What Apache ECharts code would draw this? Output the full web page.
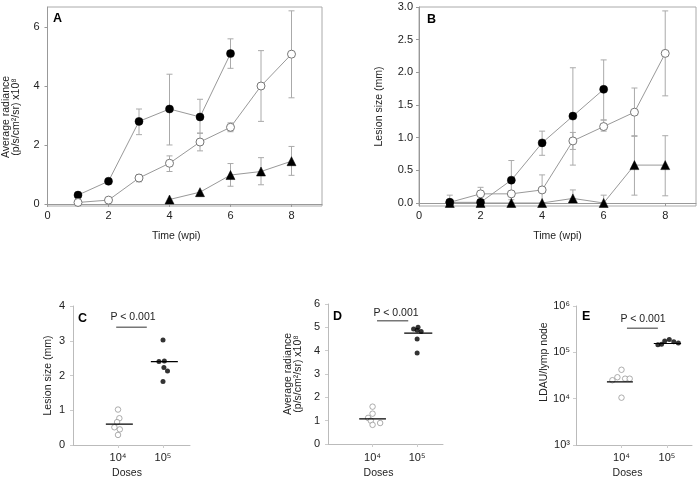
<!DOCTYPE html>
<html><head><meta charset="utf-8">
<script src="https://cdn.jsdelivr.net/npm/echarts@6/dist/echarts.min.js"></script>
<style>html,body{margin:0;padding:0;background:#fff}#c{width:700px;height:480px}</style>
</head><body><div id="c"></div>
<script>
// ---------- Panel A: average radiance over time ----------
const aFilledX = [1, 2, 3, 4, 5, 6];
const aFilled = [0.3, 0.77, 2.8, 3.22, 2.95, 5.1];
const aFilledLo = [null, null, 2.35, 2.0, 2.4, 4.6];
const aFilledHi = [null, null, 3.22, 4.4, 3.55, 5.6];
const aOpenX = [1, 2, 3, 4, 5, 6, 7, 8];
const aOpen = [0.05, 0.13, 0.88, 1.38, 2.1, 2.6, 4.0, 5.08];
const aOpenLo = [null, null, 0.75, 1.1, 1.8, 2.45, 2.8, 3.6];
const aOpenHi = [null, null, 1.0, 1.63, 2.4, 2.75, 5.2, 6.55];
const aTriX = [4, 5, 6, 7, 8];
const aTri = [0.15, 0.4, 0.98, 1.1, 1.45];
const aTriLo = [null, null, 0.6, 0.65, 0.97];
const aTriHi = [null, null, 1.37, 1.57, 1.95];
const aYTicks = [0, 2, 4, 6];
const xTicksTime = [0, 2, 4, 6, 8];

// ---------- Panel B: lesion size over time ----------
const bFilledX = [1, 2, 3, 4, 5, 6];
const bFilled = [0.01, 0.01, 0.35, 0.92, 1.33, 1.74];
const bFilledLo = [0, null, 0.05, 0.73, 0.58, 1.27];
const bFilledHi = [0.12, null, 0.65, 1.1, 2.07, 2.19];
const bOpenX = [1, 2, 3, 4, 5, 6, 7, 8];
const bOpen = [0.01, 0.14, 0.14, 0.2, 0.95, 1.17, 1.39, 2.29];
const bOpenLo = [null, 0.05, null, 0.0, 0.82, 1.1, 1.02, 1.64];
const bOpenHi = [null, 0.24, null, 0.43, 1.08, 1.27, 1.76, 2.94];
const bTriX = [1, 2, 3, 4, 5, 6, 7, 8];
const bTri = [0, 0, 0, 0, 0.07, 0, 0.58, 0.58];
const bTriLo = [null, null, null, null, 0, 0, 0.12, 0.11];
const bTriHi = [null, null, null, null, 0.2, 0.12, 1.03, 1.03];
const bYTicks = [0, 0.5, 1.0, 1.5, 2.0, 2.5, 3.0];

// ---------- Dose panels (C, D, E) ----------
const doseCats = ['10⁴', '10⁵'];
const doseTickPos = [1, 2];
// C: lesion size (mm)
const cLow = [1.02, 0.77, 0.66, 0.51, 0.45, 0.29];
const cLowJit = [0, 0.03, -0.02, -0.08, 0.04, 0];
const cHigh = [3.02, 2.42, 2.4, 2.23, 2.13, 1.83];
const cHighJit = [0, 0.03, -0.09, 0.02, 0.1, 0];
const cMedians = [0.6, 2.4];
const cSigY = 3.39;
// D: average radiance
const dLow = [1.6, 1.3, 1.12, 1.0, 0.9, 0.82];
const dLowJit = [0, 0, -0.1, -0.04, 0.17, 0];
const dHigh = [5.0, 4.93, 4.88, 4.82, 4.5, 3.9];
const dHighJit = [0.02, -0.08, 0.0, 0.09, 0, 0];
const dMedians = [1.08, 4.75];
const dSigY = 5.28;
// E: LDAU per lymph node
const eLow = [42000, 29000, 27000, 27000, 25000, 10500];
const eLowJit = [0, -0.09, 0.08, 0.18, -0.2, 0];
const eHigh = [190000, 175000, 170000, 160000, 150000, 145000];
const eHighJit = [0.05, -0.05, 0.15, 0.25, -0.12, -0.2];
const eMedians = [23000, 155000];
const eSigY = 330000;

const FONT = 'Liberation Sans, Arial, sans-serif';
const LABEL = '#222';

function errSeries(xi, xs, lo, hi) {
  const data = [];
  xs.forEach((x, i) => { if (lo[i] != null) data.push([x, lo[i], hi[i]]); });
  return {
    type: 'custom', xAxisIndex: xi, yAxisIndex: xi, silent: true, z: 1,
    encode: { x: 0, y: [1, 2] }, data,
    renderItem(params, api) {
      const x = api.value(0);
      const p1 = api.coord([x, api.value(1)]);
      const p2 = api.coord([x, api.value(2)]);
      const w = 3, st = { stroke: '#aaa', lineWidth: 1 };
      return { type: 'group', children: [
        { type: 'line', shape: { x1: p1[0], y1: p1[1], x2: p2[0], y2: p2[1] }, style: st },
        { type: 'line', shape: { x1: p1[0] - w, y1: p1[1], x2: p1[0] + w, y2: p1[1] }, style: st },
        { type: 'line', shape: { x1: p2[0] - w, y1: p2[1], x2: p2[0] + w, y2: p2[1] }, style: st }
      ]};
    }
  };
}
function lineSeries(xi, xs, ys, kind) {
  const item = kind === 'open'
    ? { color: '#fff', borderColor: '#777', borderWidth: 1 }
    : { color: '#000', borderColor: '#000', borderWidth: 0.5 };
  return {
    type: 'line', xAxisIndex: xi, yAxisIndex: xi, z: 3,
    data: xs.map((x, i) => [x, ys[i]]),
    symbol: kind === 'tri' ? 'triangle' : 'circle',
    symbolSize: kind === 'tri' ? 9 : 8,
    showAllSymbol: true,
    lineStyle: { color: '#999', width: 1 },
    itemStyle: item, animation: false
  };
}
function dotSeries(xi, cat, vals, jit, open) {
  return {
    type: 'scatter', xAxisIndex: xi, yAxisIndex: xi, z: 3,
    data: vals.map((v, i) => [cat + jit[i], v]),
    symbol: 'circle', symbolSize: open ? 5.5 : 5,
    itemStyle: open ? { color: '#fff', borderColor: '#999', borderWidth: 1 } : { color: '#000' }
  };
}
function segSeries(xi, x1, x2, y, color, width) {
  return {
    type: 'line', xAxisIndex: xi, yAxisIndex: xi, z: 4,
    data: [[x1, y], [x2, y]], symbol: 'none',
    lineStyle: { color, width }
  };
}

function timeX(gi, padR) {
  return {
    type: 'value', gridIndex: gi, min: 0, max: 9,
    name: 'Time (wpi)', nameLocation: 'middle', nameGap: 25,
    nameTextStyle: { fontFamily: FONT, fontSize: 10.5, color: LABEL, padding: [0, padR, 0, 0] },
    axisLine: { show: true, lineStyle: { color: '#999' } },
    axisTick: { show: true, length: 3, customValues: xTicksTime, lineStyle: { color: '#999' } },
    axisLabel: { customValues: xTicksTime, margin: 4, fontFamily: FONT, fontSize: 11, color: LABEL },
    splitLine: { show: false }
  };
}
function doseX(gi, max, padR, margin, gap) {
  return {
    type: 'value', gridIndex: gi, min: 0, max,
    name: 'Doses', nameLocation: 'middle', nameGap: gap,
    nameTextStyle: { fontFamily: FONT, fontSize: 10.5, color: LABEL, padding: [0, padR, 0, 0] },
    axisLine: { show: true, onZero: false, lineStyle: { color: '#bbb' } },
    axisTick: { show: true, length: 3, customValues: doseTickPos, lineStyle: { color: '#ccc' } },
    axisLabel: { customValues: doseTickPos, margin, fontFamily: FONT, fontSize: 11, color: LABEL,
      formatter: v => doseCats[Math.round(v) - 1] },
    splitLine: { show: false }
  };
}
function yAx(gi, o) {
  return Object.assign({
    type: 'value', gridIndex: gi, nameLocation: 'middle', nameRotate: 90,
    axisLine: { show: true, onZero: false, lineStyle: { color: '#999' } },
    axisTick: { show: true, length: 3, lineStyle: { color: '#999' } },
    splitLine: { show: false }
  }, o);
}

const chart = echarts.init(document.getElementById('c'), null, { renderer: 'canvas' });
const option = {
  animation: false,
  backgroundColor: '#fff',
  textStyle: { fontFamily: FONT },
  grid: [
    { left: 45, top: 7, width: 277, height: 199, show: true, borderColor: '#aaa', borderWidth: 1 },
    { left: 419, top: 7, width: 277, height: 199, show: true, borderColor: '#aaa', borderWidth: 1 },
    { left: 73, top: 306, width: 117, height: 140 },
    { left: 328, top: 304, width: 115, height: 141 },
    { left: 576, top: 306, width: 116, height: 140 }
  ],
  xAxis: [
    timeX(0, 17),
    timeX(1, 0),
    doseX(2, 2.6, 9, 7, 23),
    doseX(3, 2.58, 14, 8, 24),
    doseX(4, 2.55, 13, 7, 23)
  ],
  yAxis: [
    yAx(0, { min: -0.07, max: 6.68,
      name: 'Average radiance\n(p/s/cm²/sr) x10⁸', nameGap: 26,
      nameTextStyle: { fontFamily: FONT, fontSize: 10.5, lineHeight: 10, color: LABEL, padding: [0, 21, 0, 0] },
      axisTick: { show: true, length: 3, customValues: aYTicks, lineStyle: { color: '#999' } },
      axisLabel: { customValues: aYTicks, margin: 8, fontFamily: FONT, fontSize: 11, color: LABEL } }),
    yAx(1, { min: -0.046, max: 3.0,
      name: 'Lesion size (mm)', nameGap: 34,
      nameTextStyle: { fontFamily: FONT, fontSize: 10.5, color: LABEL },
      axisTick: { show: true, length: 3, customValues: bYTicks, lineStyle: { color: '#999' } },
      axisLabel: { customValues: bYTicks, margin: 6, fontFamily: FONT, fontSize: 11, color: LABEL,
        formatter: v => v.toFixed(1) } }),
    yAx(2, { min: 0, max: 4, interval: 1,
      name: 'Lesion size (mm)', nameGap: 19,
      nameTextStyle: { fontFamily: FONT, fontSize: 10.5, color: LABEL },
      axisLine: { show: true, onZero: false, lineStyle: { color: '#bbb' } },
      axisTick: { show: true, length: 3, lineStyle: { color: '#ccc' } },
      axisLabel: { margin: 8, fontFamily: FONT, fontSize: 11, color: LABEL } }),
    yAx(3, { min: 0, max: 6, interval: 1,
      name: 'Average radiance\n(p/s/cm²/sr) x10⁸', nameGap: 25,
      nameTextStyle: { fontFamily: FONT, fontSize: 10.5, lineHeight: 10, color: LABEL },
      axisLine: { show: true, onZero: false, lineStyle: { color: '#bbb' } },
      axisTick: { show: true, length: 3, lineStyle: { color: '#ccc' } },
      axisLabel: { margin: 8, fontFamily: FONT, fontSize: 11, color: LABEL } }),
    yAx(4, { type: 'log', logBase: 10, min: 1000, max: 1000000,
      name: 'LDAU/lymp node', nameGap: 26,
      nameTextStyle: { fontFamily: FONT, fontSize: 10.5, color: LABEL, padding: [0, 0, 0, 27] },
      axisLine: { show: true, onZero: false, lineStyle: { color: '#bbb' } },
      axisTick: { show: true, length: 3, lineStyle: { color: '#ccc' } },
      axisLabel: { margin: 6, fontFamily: FONT, fontSize: 11, color: LABEL,
        formatter: v => '10' + ['⁰','¹','²','³','⁴','⁵','⁶'][Math.round(Math.log10(v))] } })
  ],
  graphic: [
    { type: 'text', left: 53, top: 12, style: { text: 'A', font: 'bold 12.5px ' + FONT, fill: '#000' } },
    { type: 'text', left: 427, top: 13, style: { text: 'B', font: 'bold 12.5px ' + FONT, fill: '#000' } },
    { type: 'text', left: 78, top: 312, style: { text: 'C', font: 'bold 12.5px ' + FONT, fill: '#000' } },
    { type: 'text', left: 333, top: 310, style: { text: 'D', font: 'bold 12.5px ' + FONT, fill: '#000' } },
    { type: 'text', left: 582, top: 310, style: { text: 'E', font: 'bold 12.5px ' + FONT, fill: '#000' } },
    { type: 'text', x: 133, y: 317, style: { text: 'P < 0.001', font: '10.5px ' + FONT, fill: LABEL, textAlign: 'center', textVerticalAlign: 'middle' } },
    { type: 'text', x: 396, y: 313, style: { text: 'P < 0.001', font: '10.5px ' + FONT, fill: LABEL, textAlign: 'center', textVerticalAlign: 'middle' } },
    { type: 'text', x: 643, y: 319, style: { text: 'P < 0.001', font: '10.5px ' + FONT, fill: LABEL, textAlign: 'center', textVerticalAlign: 'middle' } }
  ],
  series: [
    errSeries(0, aFilledX, aFilledLo, aFilledHi),
    errSeries(0, aOpenX, aOpenLo, aOpenHi),
    errSeries(0, aTriX, aTriLo, aTriHi),
    lineSeries(0, aFilledX, aFilled, 'filled'),
    lineSeries(0, aOpenX, aOpen, 'open'),
    lineSeries(0, aTriX, aTri, 'tri'),

    errSeries(1, bFilledX, bFilledLo, bFilledHi),
    errSeries(1, bOpenX, bOpenLo, bOpenHi),
    errSeries(1, bTriX, bTriLo, bTriHi),
    lineSeries(1, bOpenX, bOpen, 'open'),
    lineSeries(1, bFilledX, bFilled, 'filled'),
    lineSeries(1, bTriX, bTri, 'tri'),

    dotSeries(2, 1, cLow, cLowJit, true),
    dotSeries(2, 2, cHigh, cHighJit, false),
    segSeries(2, 0.73, 1.33, cMedians[0], '#000', 1.2),
    segSeries(2, 1.73, 2.33, cMedians[1], '#000', 1.2),
    segSeries(2, 0.96, 1.64, cSigY, '#777', 1.5),

    dotSeries(3, 1, dLow, dLowJit, true),
    dotSeries(3, 2, dHigh, dHighJit, false),
    segSeries(3, 0.7, 1.3, dMedians[0], '#000', 1.2),
    segSeries(3, 1.71, 2.34, dMedians[1], '#000', 1.2),
    segSeries(3, 1.1, 1.8, dSigY, '#777', 1.5),

    dotSeries(4, 1, eLow, eLowJit, true),
    dotSeries(4, 2, eHigh, eHighJit, false),
    segSeries(4, 0.68, 1.25, eMedians[0], '#000', 1.2),
    segSeries(4, 1.71, 2.31, eMedians[1], '#000', 1.2),
    segSeries(4, 1.12, 1.8, eSigY, '#777', 1.5)
  ]
};
chart.setOption(option);
</script></body></html>
